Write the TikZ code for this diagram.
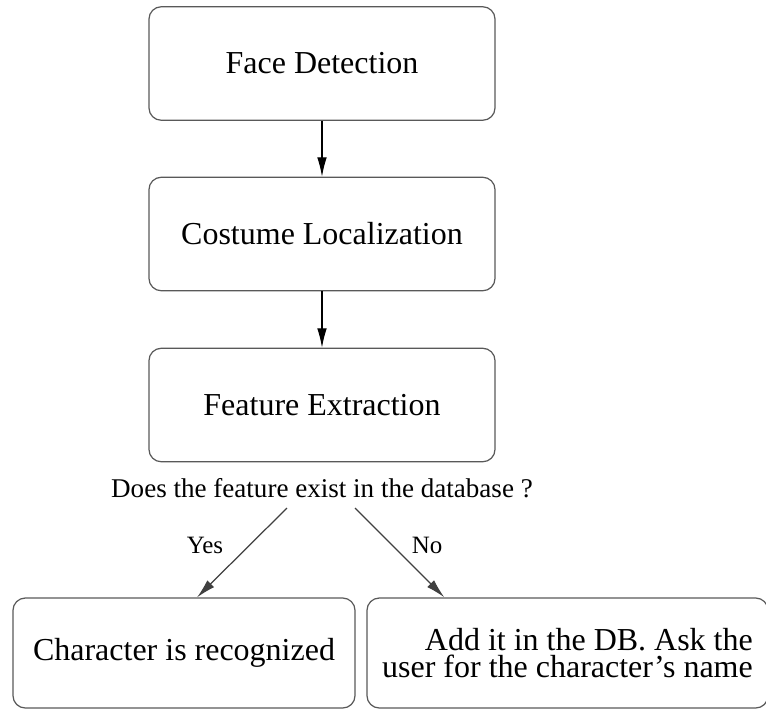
\documentclass[tikz,border=0pt]{standalone}
\usepackage{fontspec}
\setmainfont{Liberation Serif}
\usetikzlibrary{arrows.meta}

\begin{document}
\begin{tikzpicture}[>={Latex[length=11pt,width=5.5pt]}]
    \tikzset{stage/.style={draw=black!65, line width=0.7pt, rounded corners=7pt,
        minimum width=6.92cm, minimum height=2.27cm,
        font=\fontsize{18.2}{15.5}\selectfont}}
    \useasboundingbox (0,0) rectangle (15.32,-14.16);
    \node[stage] (face) at (6.44,-1.27) {Face Detection};
    \node[stage] (costume) at (6.44,-4.68) {Costume Localization};
    \node[stage] (feature) at (6.44,-8.10) {Feature Extraction};
    \node[anchor=base west, font=\fontsize{15.4}{18}\selectfont] (ask) at (2.10,-9.94) {Does the feature exist in the database ?};
    \node[stage, minimum width=6.84cm, minimum height=2.2cm] (known) at (3.68,-13.06) {Character is recognized};
    \node[stage, minimum width=8.02cm, minimum height=2.2cm, align=right] (unknown) at (11.35,-13.06) {Add it in the DB. Ask the\\ user for the character's name};
    \coordinate (ys) at (5.74,-10.16);
    \coordinate (ns) at (7.10,-10.16);
    \draw[->, line width=0.7pt] (face) -- (costume);
    \draw[->, line width=0.7pt] (costume) -- (feature);
    \draw[->, line width=0.7pt, black!75] (ys) -- ([xshift=0.26cm]known.north);
    \draw[->, line width=0.7pt, black!75] (ns) -- ([xshift=1.56cm]unknown.north west);
    \node[font=\fontsize{14.2}{17}\selectfont] (yes) at (4.10,-10.9) {Yes};
    \node[font=\fontsize{14.2}{17}\selectfont] (no) at (8.54,-10.9) {No};
\end{tikzpicture}
\end{document}
